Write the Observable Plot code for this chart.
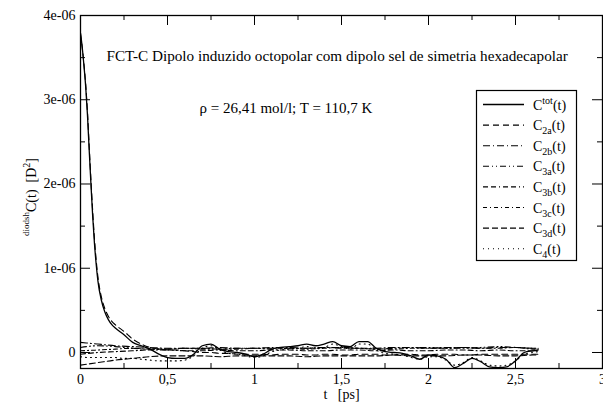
<!DOCTYPE html>
<html><head><meta charset="utf-8">
<script src="https://cdn.jsdelivr.net/npm/d3@7"></script>
<script src="https://cdn.jsdelivr.net/npm/@observablehq/plot@0.6"></script>
<style>body{margin:0;background:#fff} #chart{width:603px;height:403px;} #chart svg text{font-family:"Liberation Serif","Times New Roman","Nimbus Roman","DejaVu Serif",serif;}</style>
</head><body><div id="chart"></div>
<script>
// values are in units of 1e-06 D^2
const UNIT = 1e-6;

const tDecay = [0,0.01,0.02,0.03,0.04,0.05,0.06,0.07,0.08,0.09,0.10,0.12,0.14,0.16,0.18,0.20,0.25,0.30,0.35,0.40,0.45,0.50,0.55,0.60,0.65,0.70,0.75,0.80,0.85,0.90,0.95,1.00,1.05,1.10,1.15,1.20,1.25,1.30,1.35,1.40,1.45,1.50,1.55,1.60,1.65,1.70,1.75,1.80,1.85,1.90,1.95,2.00,2.05,2.10,2.15,2.20,2.25,2.30,2.35,2.40,2.45,2.50,2.55,2.60,2.63];
const cTot = [3.79,3.62,3.40,3.15,2.82,2.40,2.00,1.62,1.30,1.05,0.85,0.62,0.48,0.39,0.33,0.29,0.21,0.12,0.08,0.04,-0.02,-0.06,-0.07,-0.07,-0.02,0.08,0.10,0.04,0.01,0.00,-0.02,-0.05,-0.02,0.04,0.06,0.07,0.08,0.10,0.08,0.10,0.13,0.08,0.07,0.13,0.13,0.05,0.01,0.00,-0.01,-0.04,-0.08,-0.03,-0.04,-0.08,-0.18,-0.13,-0.07,-0.11,-0.17,-0.18,-0.17,-0.10,0.00,0.02,0.03];
const c2a = [3.78,3.62,3.42,3.18,2.86,2.45,2.05,1.68,1.36,1.10,0.90,0.66,0.52,0.43,0.37,0.33,0.25,0.16,0.10,0.06,0.04,0.03,0.03,0.02,0.01,0.00,0.00,-0.01,-0.01,-0.02,-0.02,-0.02,-0.02,-0.03,-0.02,-0.02,-0.02,-0.03,-0.03,-0.02,-0.02,-0.03,-0.03,-0.02,-0.02,-0.02,-0.03,-0.03,-0.02,-0.02,-0.03,-0.03,-0.02,-0.02,-0.02,-0.03,-0.03,-0.02,-0.02,-0.02,-0.02,-0.02,-0.02,-0.02,-0.02];

const tBand = [0,0.1,0.2,0.3,0.4,0.5,0.6,0.7,0.8,0.9,1.0,1.1,1.2,1.3,1.4,1.5,1.6,1.7,1.8,1.9,2.0,2.1,2.2,2.3,2.4,2.5,2.6,2.63];
const c2b = [0.12,0.10,0.08,0.07,0.06,0.05,0.05,0.05,0.06,0.05,0.05,0.06,0.06,0.05,0.06,0.06,0.05,0.05,0.06,0.06,0.05,0.06,0.06,0.05,0.06,0.06,0.05,0.05];
const c3a = [0.06,0.08,0.07,0.05,0.04,0.04,0.05,0.04,0.04,0.05,0.05,0.04,0.05,0.05,0.06,0.05,0.05,0.04,0.05,0.06,0.06,0.05,0.05,0.06,0.07,0.06,0.05,0.05];
const c3b = [-0.02,0.00,0.01,0.02,0.03,0.03,0.02,0.02,0.03,0.02,0.02,0.03,0.03,0.02,0.02,0.03,0.03,0.02,0.03,0.02,0.02,0.03,0.03,0.02,0.03,0.02,0.02,0.02];
const c3c = [0.02,0.03,0.04,0.05,0.04,0.04,0.05,0.05,0.04,0.04,0.05,0.05,0.05,0.04,0.05,0.06,0.05,0.04,0.04,0.05,0.05,0.05,0.06,0.05,0.05,0.06,0.04,0.04];
const c3d = [-0.15,-0.12,-0.09,-0.07,-0.05,-0.04,-0.04,-0.04,-0.05,-0.04,-0.04,-0.04,-0.04,-0.05,-0.04,-0.04,-0.04,-0.04,-0.03,-0.04,-0.04,-0.04,-0.03,-0.03,-0.04,-0.04,-0.03,-0.03];

const tC4 = [0,0.05,0.10,0.15,0.20,0.25,0.30,0.35,0.40,0.45,0.50,0.55,0.60,0.65,0.70,0.75,0.80,0.85,0.90,0.95,1.00,1.05,1.10,1.15,1.20,1.25,1.30,1.35,1.40,1.45,1.50,1.55,1.60,1.65,1.70,1.75,1.80,1.85,1.90,1.95,2.00,2.05,2.10,2.15,2.20,2.25,2.30,2.35,2.40,2.45,2.50,2.55,2.60,2.63];
const c4 = [-0.05,-0.06,-0.06,-0.06,-0.06,-0.07,-0.07,-0.08,-0.09,-0.10,-0.10,-0.10,-0.09,-0.04,0.05,0.08,0.03,-0.01,-0.02,-0.04,-0.06,-0.04,0.01,0.03,0.04,0.05,0.07,0.05,0.06,0.10,0.07,0.04,0.10,0.10,0.03,-0.01,-0.02,-0.03,-0.06,-0.08,-0.05,-0.05,-0.09,-0.15,-0.12,-0.06,-0.10,-0.15,-0.16,-0.15,-0.10,-0.02,0.00,0.01];

const seriesNames = ["Ctot","C2a","C2b","C3a","C3b","C3c","C3d","C4"];
const legendScript = ["tot","2a","2b","3a","3b","3c","3d","4"];
const legendScriptKind = ["sup","sub","sub","sub","sub","sub","sub","sub"];
const dashes = ["none","6,4","7,3,1,3","6,3,1,3,1,3","5,3,5,3,1,3","4,3,1,3","6,3","1,4"];

const xMajor = [0,0.5,1,1.5,2,2.5,3];
const xLabels = ["0","0,5","1","1,5","2","2,5","3"];
const xMinor = [0.25,0.75,1.25,1.75,2.25,2.75];
const yMajor = [0,1,2,3,4];
const yLabels = ["0","1e-06","2e-06","3e-06","4e-06"];
const yMinor = [0.5,1.5,2.5,3.5];

const titleText = "FCT-C Dipolo induzido octopolar com dipolo sel de simetria hexadecapolar";
const subtitleText = "ρ = 26,41 mol/l; T = 110,7 K";
const xTitle = "t\u00a0\u00a0\u00a0[ps]";

const seriesT = [tDecay,tDecay,tBand,tBand,tBand,tBand,tBand,tC4];
const seriesV = [cTot,c2a,c2b,c3a,c3b,c3c,c3d,c4];

const W = 603, H = 403, mL = 80, mR = 1, mT = 15, mB = 35;
const fw = W - mL - mR, fh = H - mT - mB;
const FONT = "Liberation Serif, Times New Roman, Nimbus Roman, DejaVu Serif, serif";

const lineMarks = seriesNames.map((name, k) => {
  const rows = seriesT[k].map((t, i) => ({t, v: seriesV[k][i] * UNIT}));
  return Plot.line(rows, {x: "t", y: "v", stroke: "black", strokeWidth: k === 0 ? 1.3 : 1.1,
    strokeDasharray: dashes[k] === "none" ? undefined : dashes[k], curve: "monotone-x", clip: true});
});

const plot = Plot.plot({
  width: W, height: H, marginLeft: mL, marginRight: mR, marginTop: mT, marginBottom: mB,
  style: {fontFamily: FONT, fontSize: "14px", background: "white", color: "black", overflow: "visible"},
  x: {domain: [0, 3]},
  y: {domain: [-0.19 * UNIT, 4 * UNIT]},
  marks: [
    ...lineMarks,
    Plot.tickX(xMajor, {x: d => d, insetTop: fh - 10, stroke: "black"}),
    Plot.tickX(xMajor, {x: d => d, insetBottom: fh - 10, stroke: "black"}),
    Plot.tickX(xMinor, {x: d => d, insetTop: fh - 5, stroke: "black"}),
    Plot.tickX(xMinor, {x: d => d, insetBottom: fh - 5, stroke: "black"}),
    Plot.tickY(yMajor, {y: d => d * UNIT, insetRight: fw - 10, stroke: "black"}),
    Plot.tickY(yMajor, {y: d => d * UNIT, insetLeft: fw - 10, stroke: "black"}),
    Plot.tickY(yMinor, {y: d => d * UNIT, insetRight: fw - 5, stroke: "black"}),
    Plot.tickY(yMinor, {y: d => d * UNIT, insetLeft: fw - 5, stroke: "black"}),
    Plot.frame({stroke: "black", strokeWidth: 1.3}),
    Plot.axisX(xMajor, {tickSize: 0, tickPadding: 6, tickFormat: d => xLabels[xMajor.indexOf(d)], label: null, fontSize: 14}),
    Plot.axisY(yMajor.map(d => d * UNIT), {tickSize: 0, tickPadding: 5, tickFormat: d => yLabels[yMajor.indexOf(Math.round(d / UNIT))], label: null, fontSize: 14}),
    Plot.text([titleText], {text: d => d, frameAnchor: "top-left", dx: 26, dy: 41, textAnchor: "start", lineAnchor: "middle", fontSize: 15.2}),
    Plot.text([subtitleText], {text: d => d, frameAnchor: "top-left", dx: 119, dy: 93, textAnchor: "start", lineAnchor: "middle", fontSize: 15}),
    Plot.text([xTitle], {text: d => d, frameAnchor: "bottom", dy: 26, lineAnchor: "middle", fontSize: 14})
  ]
});
document.getElementById("chart").appendChild(plot);

// y-axis title with superscripts
const svg = d3.select(plot);
const yt = svg.append("text")
  .attr("transform", "translate(36,197) rotate(-90)")
  .attr("text-anchor", "middle")
  .attr("font-family", FONT).attr("font-size", 14).attr("fill", "black");
yt.append("tspan").attr("font-size", 9).attr("dy", -7).text("diodsh");
yt.append("tspan").attr("dy", 7).text("C(t)\u00a0\u00a0[D");
yt.append("tspan").attr("font-size", 10).attr("dy", -6).text("2");
yt.append("tspan").attr("dy", 6).text("]");

// legend
const lg = svg.append("g").attr("font-family", FONT).attr("font-size", 14).attr("text-anchor", "start");
lg.append("rect").attr("x", 476.5).attr("y", 90.5).attr("width", 100).attr("height", 170)
  .attr("fill", "white").attr("stroke", "black").attr("stroke-width", 1.2);
seriesNames.forEach((name, k) => {
  const yy = 104.5 + k * 20.6;
  lg.append("line").attr("x1", 483).attr("x2", 524).attr("y1", yy).attr("y2", yy)
    .attr("stroke", "black").attr("stroke-width", k === 0 ? 1.3 : 1.1)
    .attr("stroke-dasharray", dashes[k]);
  const tx = lg.append("text").attr("x", 533).attr("y", yy + 5).attr("fill", "black").attr("text-anchor", "start");
  tx.append("tspan").text("C");
  const sup = legendScriptKind[k] === "sup";
  tx.append("tspan").attr("font-size", 10).attr("dy", sup ? -6 : 4).text(legendScript[k]);
  tx.append("tspan").attr("dy", sup ? 6 : -4).text("(t)");
});
</script>
</body></html>
